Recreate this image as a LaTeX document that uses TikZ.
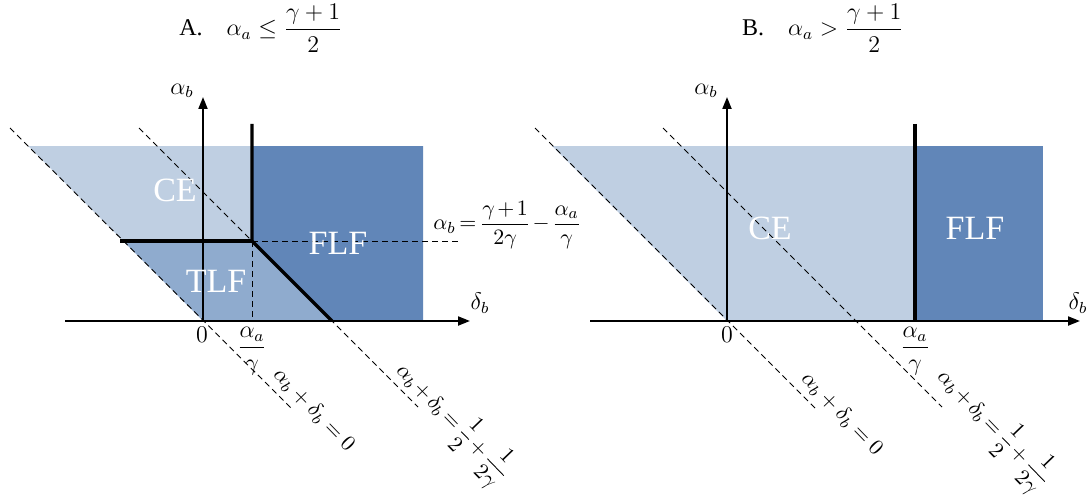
\documentclass[tikz,border=0pt]{standalone}
\usepackage{fontspec}
\setmainfont{Liberation Serif}
\usepackage{amsmath}
\usetikzlibrary{arrows.meta}

\definecolor{ceblue}{RGB}{191,207,226}
\definecolor{tlfblue}{RGB}{143,171,206}
\definecolor{flfblue}{RGB}{97,134,184}

\begin{document}
\begin{tikzpicture}[
    x=0.5pt, y=0.5pt,
    axis/.style={line width=1pt, -{Triangle[length=6pt, width=4.5pt]}},
    bound/.style={line width=1.6pt},
    guide/.style={line width=0.45pt, dash pattern=on 3pt off 2pt},
    regtxt/.style={text=white, font=\fontsize{17}{20}\selectfont, inner sep=1pt},
    lab/.style={font=\large, inner sep=1pt},
    eqlab/.style={font=\fontsize{11}{13}\selectfont, rotate=-46, inner sep=1pt},
    tight/.style={execute at begin node={\thickmuskip=3mu\medmuskip=2mu}}
]
    \useasboundingbox (0,0) rectangle (1091,499);

    % titles
    \node[lab] (titleA) at (261,471) {A.\quad $\displaystyle\alpha_a \le \frac{\gamma+1}{2}$};
    \node[lab] (titleB) at (823,471) {B.\quad $\displaystyle\alpha_a > \frac{\gamma+1}{2}$};

    % panel A
    \begin{scope}[shift={(203,178)}]
        \fill[ceblue] (-175,175) -- (49,175) -- (49,80) -- (-80,80) -- cycle;
        \fill[tlfblue] (-80,80) -- (49,80) -- (129,0) -- (0,0) -- cycle;
        \fill[flfblue] (49,175) -- (220,175) -- (220,0) -- (129,0) -- (49,80) -- cycle;

        \coordinate (oA) at (0,0);
        \coordinate (kA) at (49,80);
        \coordinate (xlA) at (-138,0);
        \coordinate (xrA) at (267,0);
        \coordinate (ytA) at (0,224);
        \coordinate (vtA) at (49,197);
        \coordinate (vbA) at (49,0);
        \coordinate (hlA) at (-83,80);
        \coordinate (hrA) at (255,80);
        \coordinate (dgA) at (129,0);
        \coordinate (n1sA) at (-193,193);
        \coordinate (n1eA) at (88,-87);
        \coordinate (n2sA) at (-64,193);
        \coordinate (n2eA) at (215,-86);

        \draw[guide] (n1sA) -- (n1eA);
        \draw[guide] (n2sA) -- (n2eA);
        \draw[guide] (kA) -- (hrA);
        \draw[guide] (kA) -- (vbA);

        \draw[axis] (xlA) -- (xrA);
        \draw[axis] (oA) -- (ytA);

        \draw[bound] (hlA) -- (kA);
        \draw[bound] (vtA) -- (kA) -- (dgA);

        \node[lab] (abA) at (-21,230) {$\alpha_b$};
        \node[lab] (dbA) at (277,18) {$\delta_b$};
        \node[lab] (zeroA) at (-1,-14) {$0$};
        \node[lab] (aaA) at (49,-30) {$\displaystyle\frac{\alpha_a}{\gamma}$};
        \node[regtxt] (ceA) at (-28,131) {CE};
        \node[regtxt] (tlfA) at (13,40) {TLF};
        \node[regtxt] (flfA) at (135,78) {FLF};
        \node[lab, tight, font=\fontsize{11}{13}\selectfont, anchor=west] (eqA) at (228,96) {$\displaystyle\alpha_b = \frac{\gamma+1}{2\gamma} - \frac{\alpha_a}{\gamma}$};
        \node[eqlab] (n1A) at (111,-89) {$\alpha_b + \delta_b = 0$};
        \node[eqlab, tight] (n2A) at (249,-102) {$\alpha_b + \delta_b = \dfrac{1}{2} + \dfrac{1}{2\gamma}$};
    \end{scope}

    % panel B
    \begin{scope}[shift={(727,178)}]
        \fill[ceblue] (-175,175) -- (188,175) -- (188,0) -- (0,0) -- cycle;
        \fill[flfblue] (188,175) -- (316,175) -- (316,0) -- (188,0) -- cycle;

        \coordinate (oB) at (0,0);
        \coordinate (xlB) at (-137,0);
        \coordinate (xrB) at (353,0);
        \coordinate (ytB) at (0,224);
        \coordinate (vtB) at (188,197);
        \coordinate (vbB) at (188,0);
        \coordinate (n1sB) at (-192,193);
        \coordinate (n1eB) at (88,-87);
        \coordinate (n2sB) at (-64,193);
        \coordinate (n2eB) at (215,-86);

        \draw[guide] (n1sB) -- (n1eB);
        \draw[guide] (n2sB) -- (n2eB);

        \draw[axis] (xlB) -- (xrB);
        \draw[axis] (oB) -- (ytB);

        \draw[bound] (vtB) -- (vbB);

        \node[lab] (abB) at (-21,230) {$\alpha_b$};
        \node[lab] (dbB) at (351,18) {$\delta_b$};
        \node[lab] (zeroB) at (0,-14) {$0$};
        \node[lab] (aaB) at (188,-30) {$\displaystyle\frac{\alpha_a}{\gamma}$};
        \node[regtxt] (ceB) at (43,93) {CE};
        \node[regtxt] (flfB) at (248,93) {FLF};
        \node[eqlab] (n1B) at (115,-93) {$\alpha_b + \delta_b = 0$};
        \node[eqlab, tight] (n2B) at (266,-108) {$\alpha_b + \delta_b = \dfrac{1}{2} + \dfrac{1}{2\gamma}$};
    \end{scope}
\end{tikzpicture}
\end{document}
